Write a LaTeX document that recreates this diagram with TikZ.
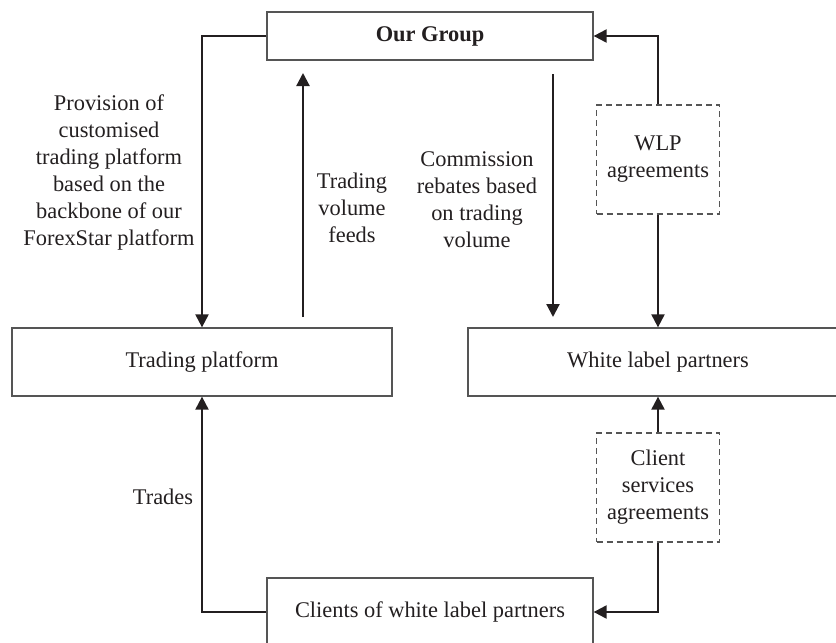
\documentclass[tikz,border=0pt]{standalone}
\usepackage{fontspec}
\setmainfont{Liberation Serif}
\usetikzlibrary{arrows.meta}
\definecolor{ink}{HTML}{231F20}
\definecolor{frame}{HTML}{555555}
\tikzset{
  every node/.style={text=ink, font=\fontsize{22.4pt}{27pt}\selectfont, inner sep=0pt},
  entity/.style={draw=frame, line width=1.3pt, fill=white, minimum height=68pt, align=center},
  pact/.style={draw=frame, line width=1.3pt, dash pattern=on 6pt off 4pt, fill=white,
               minimum width=123pt, minimum height=109pt, align=center},
  flow/.style={draw=ink, line width=2.2pt, -{Triangle[length=13pt,width=13pt]}},
  lbl/.style={align=center}
}
\begin{document}
\begin{tikzpicture}[x=1pt, y=-1pt]
\useasboundingbox (0,0) rectangle (836,643);
\begin{scope}
\clip (0,0) rectangle (836,643);

% parties
\node[entity, minimum width=326pt, minimum height=48pt] (og) at (430,36) {\textbf{Our Group}};
\node[entity, minimum width=380pt] (tp) at (202,362) {Trading platform};
\node[entity, minimum width=380pt] (wl) at (658,362) {White label partners};
\node[entity, minimum width=326pt] (cl) at (430,612) {Clients of white label partners};

% agreements
\node[pact] (wlp) at (658,159.5) {WLP\\agreements};
\node[pact] (csa) at (658,487.5) {Client\\services\\agreements};

% free-standing flows between the top box and the platforms
\coordinate (tvA) at (303,317);
\coordinate (tvB) at (303,73);
\coordinate (crA) at (553,74);
\coordinate (crB) at (553,317);

% connectors
\draw[flow] (og.west) -| (tp.north);
\draw[flow] (tvA) -- (tvB);
\draw[flow] (crA) -- (crB);
\draw[flow] (wlp.north) |- (og.east);
\draw[flow] (wlp.south) -- (wl.north);
\draw[flow] (csa.north) -- (wl.south);
\draw[flow] (csa.south) |- (cl.east);
\draw[flow] (cl.west) -| (tp.south);

% flow labels
\node[lbl] (lprov) at (109,172) {Provision of\\customised\\trading platform\\based on the\\backbone of our\\ForexStar platform};
\node[lbl] (ltv) at (352,208) {Trading\\volume\\feeds};
\node[lbl] (lcr) at (477,200) {Commission\\rebates based\\on trading\\volume};
\node[lbl] (ltr) at (163,497) {Trades};
\end{scope}
\end{tikzpicture}
\end{document}
